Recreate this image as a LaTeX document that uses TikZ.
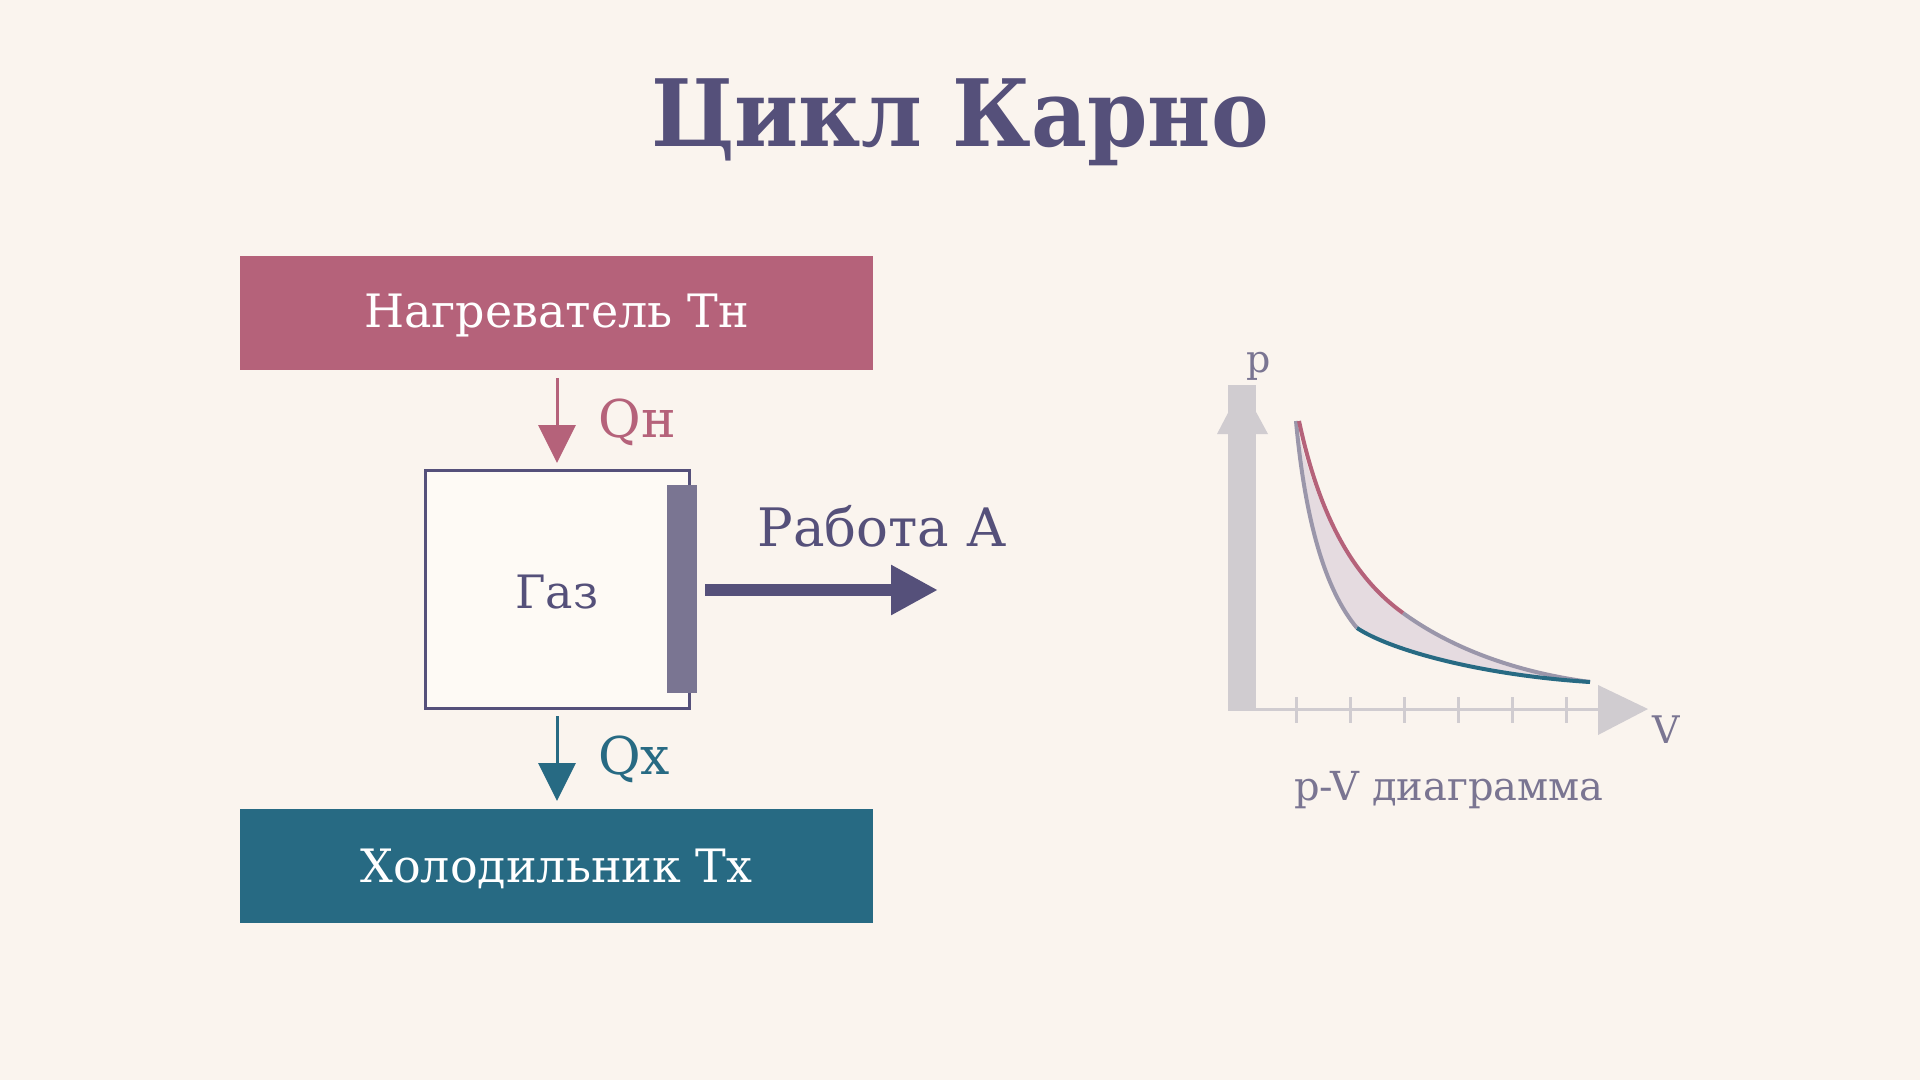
\documentclass[tikz,border=0pt]{standalone}
\usepackage{fontspec}
\setmainfont{DejaVu Serif}
\newfontfamily\titlefont[FakeStretch=0.93]{DejaVu Serif}
\usetikzlibrary{arrows.meta}
\definecolor{bg}{HTML}{FAF4EE}
\definecolor{titlec}{HTML}{55507A}
\definecolor{heatc}{HTML}{B5627A}
\definecolor{coolc}{HTML}{276A83}
\definecolor{gasfill}{HTML}{FEFAF5}
\definecolor{pistonc}{HTML}{7A7592}
\definecolor{axisc}{HTML}{D0CCD0}
\definecolor{adiac}{HTML}{9A96AA}
\definecolor{areac}{HTML}{E5DBE0}
\definecolor{labc}{HTML}{7A7592}
\tikzset{
  reservoir/.style={rectangle, minimum width=633pt, minimum height=114pt, inner sep=0pt, outer sep=0pt, text=white, font=\fontsize{46}{50}\selectfont},
  heatarrow/.style={line width=3pt, -{Triangle[length=38pt,width=37pt]}},
  lab/.style={inner sep=0pt, anchor=base},
  curve/.style={line width=4pt},
}
\begin{document}
\begin{tikzpicture}[x=1pt,y=-1pt]
\fill[bg] (0,0) rectangle (1920,1080);
\useasboundingbox (0,0) rectangle (1920,1080);
% title
\node[lab, text=titlec, font=\titlefont\fontsize{93}{96}\selectfont\bfseries] (title) at (960,146) {Цикл Карно};
% reservoirs
\node[reservoir, fill=heatc] (heater) at (556.5,313) {};
\node[lab, text=white, font=\fontsize{46}{50}\selectfont] (heatertxt) at (556.5,327) {Нагреватель Тн};
\node[reservoir, fill=coolc] (cooler) at (556.5,866) {};
\node[lab, text=white, font=\fontsize{46}{50}\selectfont] (coolertxt) at (556.5,882) {Холодильник Тх};
% gas box
\node[rectangle, draw=titlec, line width=3pt, fill=gasfill, minimum width=264pt, minimum height=238pt, inner sep=0pt, outer sep=0pt] (gas) at (557,589) {};
\node[lab, text=titlec, font=\fontsize{46}{50}\selectfont] (gastxt) at (557,608) {Газ};
\fill[pistonc] (667,485) rectangle (697,693);
\coordinate (pistonr) at (705,590);
\coordinate (worktip) at (938,590);
% arrows
\coordinate (qhs) at (557,378);
\coordinate (qhe) at (557,463);
\draw[heatarrow, heatc] (qhs) -- (qhe);
\node[lab, text=heatc, font=\fontsize{52}{56}\selectfont] (qh) at (637,437) {Qн};
\coordinate (qcs) at (557,716);
\coordinate (qce) at (557,801);
\draw[heatarrow, coolc] (qcs) -- (qce);
\node[lab, text=coolc, font=\fontsize{52}{56}\selectfont] (qc) at (634,774) {Qх};
\draw[line width=12pt, titlec, -{Triangle[length=47pt,width=47pt]}] (pistonr) -- (worktip);
\node[lab, text=titlec, font=\fontsize{53}{56}\selectfont] (work) at (882,546) {Работа А};
% p-V diagram
\coordinate (A) at (1296,421);
\coordinate (B) at (1403,613);
\coordinate (C) at (1590,682);
\coordinate (D) at (1357,628);
\fill[areac] (A) .. controls (1315,510) and (1350,575) .. (B)
  .. controls (1440,640) and (1500,670) .. (C)
  .. controls (1480,675) and (1390,650) .. (D)
  .. controls (1325,590) and (1305,520) .. (A) -- cycle;
% axes
\fill[axisc] (1228,385) rectangle (1256,710);
\fill[axisc] (1217,434) -- (1268,434) -- (1242,386) -- cycle;
\draw[axisc, line width=3pt] (1228,709) -- (1600,709);
\fill[axisc] (1598,685) -- (1648,709) -- (1598,735) -- cycle;
\foreach \tx in {1296,1350,1404,1458,1512,1566}
  \draw[axisc, line width=3pt] (\tx,697) -- (\tx,723);
\node[lab, text=labc, font=\fontsize{38}{40}\selectfont] (plab) at (1259,372) {p};
\node[lab, text=labc, font=\fontsize{38}{40}\selectfont] (vlab) at (1666,743) {V};
\node[lab, text=labc, font=\fontsize{40}{44}\selectfont] (pvlab) at (1449,800) {p-V диаграмма};
% curves
\draw[curve, adiac] (B) .. controls (1440,640) and (1500,670) .. (C);
\draw[curve, adiac] (A) .. controls (1305,520) and (1325,590) .. (D);
\draw[curve, heatc] ([xshift=3pt]A) .. controls (1318,510) and (1350,575) .. (B);
\draw[curve, coolc] (D) .. controls (1390,650) and (1480,675) .. (C);
\end{tikzpicture}
\end{document}
